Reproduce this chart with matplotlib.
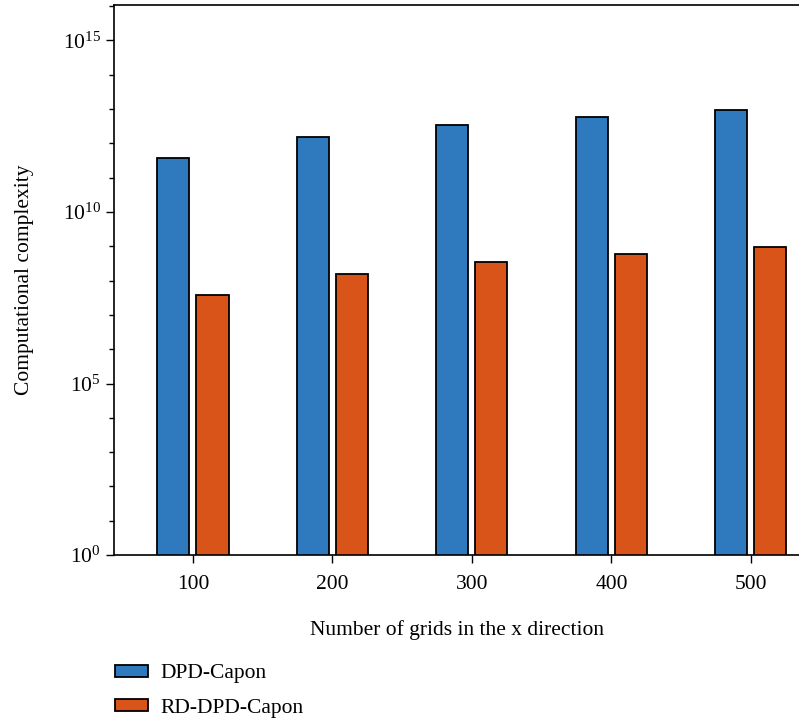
import numpy as np
import matplotlib
matplotlib.use('Agg')
import matplotlib.pyplot as plt
from matplotlib.ticker import LogLocator, NullFormatter

plt.rcParams['font.family'] = ['Liberation Serif', 'DejaVu Serif']
plt.rcParams['mathtext.fontset'] = 'custom'
plt.rcParams['mathtext.rm'] = 'Liberation Serif'

# values (log scale)
grids = [100, 200, 300, 400, 500]
dpd_capon = [3.7e11, 1.55e12, 3.5e12, 5.9e12, 9.3e12]
rd_dpd_capon = [3.8e7, 1.55e8, 3.5e8, 6.0e8, 9.5e8]
labels = ['DPD-Capon', 'RD-DPD-Capon']
colors = ['#2f7abf', '#d95419']

fig = plt.figure(figsize=(7.99, 7.2), dpi=100)
ax = fig.add_axes([0.1427, 0.229, 0.8573, 0.764])

x = np.array(grids)
w = 23
ax.bar(x - 14, dpd_capon, width=w, color=colors[0], edgecolor='black', linewidth=1.3, label=labels[0])
ax.bar(x + 14, rd_dpd_capon, width=w, color=colors[1], edgecolor='black', linewidth=1.3, label=labels[1])

ax.set_yscale('log')
ax.set_ylim(1, 10**16.03)
ax.set_xlim(43.4, 534.5)
ax.set_xticks(grids)
ax.set_yticks([1, 1e5, 1e10, 1e15])
ax.yaxis.set_minor_locator(LogLocator(base=10, subs=[1.0], numticks=40))
ax.yaxis.set_minor_formatter(NullFormatter())
ax.tick_params(axis='both', which='major', labelsize=15.5, length=6, width=1)
ax.tick_params(axis='x', which='major', pad=8)
ax.tick_params(axis='y', which='minor', length=3.5, width=1)
ax.spines['right'].set_visible(False)
for s in ['left', 'bottom', 'top']:
    ax.spines[s].set_linewidth(1.2)

ax.set_xlabel('Number of grids in the x direction', fontsize=15.5, labelpad=19)
ax.set_ylabel('Computational complexity', fontsize=15.5, labelpad=21)

fig.legend(loc='upper left', bbox_to_anchor=(0.12, 0.104), frameon=False, fontsize=15.5,
           handlelength=1.5, handleheight=0.5, handletextpad=0.6, labelspacing=0.7)

fig.savefig('out.png', dpi=100)
